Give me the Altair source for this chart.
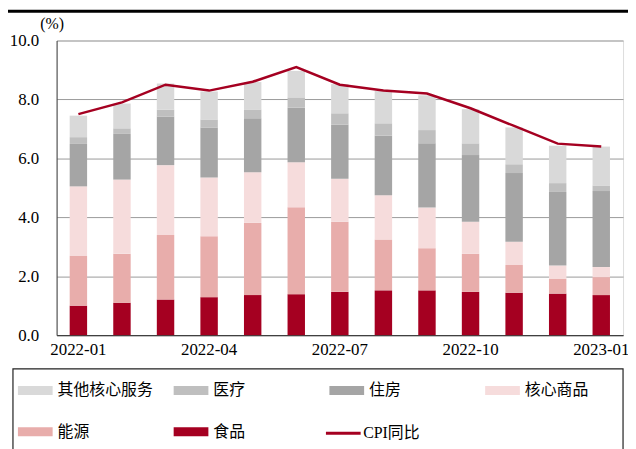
import altair as alt
import pandas as pd

months = ["2022-01", "2022-02", "2022-03", "2022-04", "2022-05", "2022-06", "2022-07",
          "2022-08", "2022-09", "2022-10", "2022-11", "2022-12", "2023-01"]
food = [1.00, 1.10, 1.21, 1.29, 1.36, 1.39, 1.47, 1.52, 1.52, 1.47, 1.44, 1.41, 1.36]
energy = [1.69, 1.66, 2.19, 2.07, 2.45, 2.95, 2.38, 1.73, 1.43, 1.29, 0.94, 0.51, 0.61]
core_goods = [2.36, 2.52, 2.37, 1.99, 1.72, 1.53, 1.46, 1.50, 1.38, 1.09, 0.79, 0.44, 0.34]
housing = [1.44, 1.55, 1.65, 1.70, 1.83, 1.86, 1.84, 2.03, 2.18, 2.26, 2.33, 2.50, 2.58]
medical = [0.23, 0.19, 0.23, 0.27, 0.30, 0.34, 0.38, 0.41, 0.45, 0.40, 0.30, 0.30, 0.19]
other = [0.73, 0.84, 0.89, 0.95, 0.93, 0.90, 0.99, 1.10, 1.18, 1.16, 1.25, 1.27, 1.32]
cpi = [7.5, 7.9, 8.5, 8.3, 8.6, 9.1, 8.5, 8.3, 8.2, 7.7, 7.1, 6.5, 6.4]

series_names = ["其他核心服务", "医疗", "住房", "核心商品", "能源", "食品"]
series_colors = ["#D9D9D9", "#BFBFBF", "#A5A5A5", "#F6DCDC", "#E8ADAB", "#A50021"]
stack_order = {"食品": 0, "能源": 1, "核心商品": 2, "住房": 3, "医疗": 4, "其他核心服务": 5}
series_values = {"食品": food, "能源": energy, "核心商品": core_goods,
                 "住房": housing, "医疗": medical, "其他核心服务": other}
tick_labels = ["2022-01", "2022-04", "2022-07", "2022-10", "2023-01"]

rows = []
for name, vals in series_values.items():
    for m, v in zip(months, vals):
        rows.append({"month": m, "series": name, "value": v, "ord": stack_order[name]})
bars_df = pd.DataFrame(rows)
line_df = pd.DataFrame({"month": months, "cpi": cpi, "name": ["CPI同比"] * len(months)})

FONT = "Liberation Serif, Noto Sans CJK SC"
W, H = 571, 297

x_enc = alt.X("month:N", sort=months,
              scale=alt.Scale(paddingInner=0.6, paddingOuter=0.3),
              axis=alt.Axis(values=tick_labels, labelAngle=0, ticks=False, title=None,
                            labelFont=FONT, labelFontSize=17, labelColor="#000",
                            labelPadding=7, domainColor="#404040", domainWidth=1.2,
                            grid=False))

bars = alt.Chart(bars_df).mark_bar().encode(
    x=x_enc,
    y=alt.Y("value:Q", stack="zero",
            scale=alt.Scale(domain=[0, 10], nice=False),
            axis=alt.Axis(values=[0, 2, 4, 6, 8, 10], format=".1f", title="(%)",
                          titleAngle=0, titleAlign="left", titleBaseline="alphabetic",
                          titleX=-17, titleY=-12, titleFont=FONT, titleFontSize=16,
                          titleFontWeight="normal", titleColor="#000",
                          labelFont=FONT, labelFontSize=17, labelColor="#000",
                          labelPadding=18, ticks=False, domainColor="#404040",
                          gridColor="#9A9A9A", gridWidth=1)),
    color=alt.Color("series:N",
                    scale=alt.Scale(domain=series_names, range=series_colors),
                    legend=alt.Legend(orient="none", legendX=-39, legendY=335,
                                      direction="horizontal",
                                      columns=4, gridAlign="all", columnPadding=20,
                                      rowPadding=16, title=None, padding=0,
                                      symbolType="M-1,-0.26H1V0.26H-1Z", symbolSize=1225,
                                      symbolStrokeWidth=0, symbolOpacity=1,
                                      labelFont=FONT, labelFontSize=16, labelColor="#000",
                                      labelOffset=5, labelLimit=200)),
    order=alt.Order("ord:Q", sort="ascending"),
)

line = alt.Chart(line_df).mark_line(strokeWidth=2.5).encode(
    x=alt.X("month:N", sort=months),
    y=alt.Y("cpi:Q"),
    stroke=alt.Stroke("name:N", scale=alt.Scale(domain=["CPI同比"], range=["#A50021"]),
                      legend=alt.Legend(orient="none", legendX=270, legendY=377,
                                        title=None, padding=0, symbolType="stroke",
                                        symbolSize=1225, symbolStrokeWidth=3,
                                        labelFont=FONT, labelFontSize=16, labelColor="#000",
                                        labelOffset=1)),
)

box = alt.Chart(pd.DataFrame({"k": [0]})).mark_rect(
    fill=None, stroke="#222", strokeWidth=1.2).encode(
    x=alt.value(-44), x2=alt.value(571), y=alt.value(331), y2=alt.value(430))

topline = alt.Chart(pd.DataFrame({"k": [0]})).mark_rule(
    color="#000", strokeWidth=3).encode(
    x=alt.value(-49), x2=alt.value(576), y=alt.value(-29.5))

chart = alt.layer(bars, line, box, topline).resolve_scale(color="independent").properties(
    width=W, height=H,
    autosize=alt.AutoSizeParams(type="none"),
    padding={"left": 49, "top": 31, "right": 5, "bottom": 113},
).configure_view(stroke=None).configure(background="white")

chart.save("out.html", embed_options={"renderer": "svg", "actions": False})
